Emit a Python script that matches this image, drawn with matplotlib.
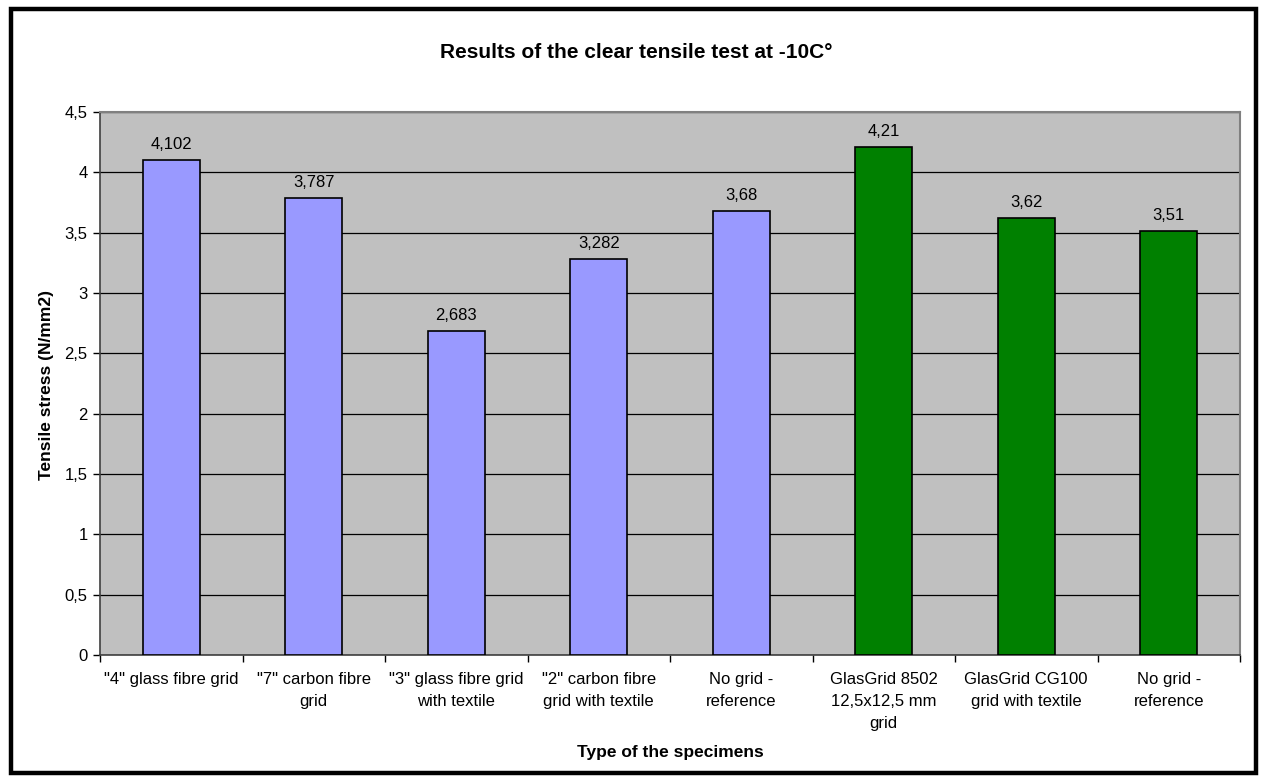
import matplotlib.pyplot as plt
from matplotlib.patches import Rectangle
from matplotlib.ticker import FuncFormatter, MultipleLocator

categories = [
    '"4" glass fibre grid',
    '"7" carbon fibre\ngrid',
    '"3" glass fibre grid\nwith textile',
    '"2" carbon fibre\ngrid with textile',
    'No grid -\nreference',
    'GlasGrid 8502\n12,5x12,5 mm\ngrid',
    'GlasGrid CG100\ngrid with textile',
    'No grid -\nreference',
]
values = [4.102, 3.787, 2.683, 3.282, 3.68, 4.21, 3.62, 3.51]
value_labels = ['4,102', '3,787', '2,683', '3,282', '3,68', '4,21', '3,62', '3,51']
bar_colors = ['#9999FF'] * 5 + ['#008000'] * 3

plt.rcParams['font.family'] = ['Liberation Sans', 'DejaVu Sans']

W, H = 1261, 782
fig = plt.figure(figsize=(W / 100, H / 100), dpi=100)

# outer frame of the chart
fig.patches.append(Rectangle((11 / W, 9 / H), (1256 - 11) / W, (773 - 9) / H,
                             transform=fig.transFigure, fill=False,
                             edgecolor='black', linewidth=3.2, zorder=10))

left, right, top, bottom = 100, 1240, 112, 655
ax = fig.add_axes([left / W, 1 - bottom / H, (right - left) / W, (bottom - top) / H])
ax.set_facecolor('#C0C0C0')

x = list(range(len(values)))
ax.bar(x, values, width=0.4, color=bar_colors, edgecolor='black', linewidth=1.2, zorder=3)

for xi, v, lab in zip(x, values, value_labels):
    ax.annotate(lab, (xi, v), xytext=(0, 6), textcoords='offset points',
                ha='center', va='bottom', fontsize=12)

ax.set_xlim(-0.5, len(values) - 0.5)
ax.set_ylim(0, 4.5)
ax.yaxis.set_major_locator(MultipleLocator(0.5))
ax.yaxis.set_major_formatter(FuncFormatter(lambda v, p: ('%g' % v).replace('.', ',')))
ax.grid(axis='y', color='black', linewidth=0.9, zorder=1)

ax.set_xticks([i - 0.5 for i in range(len(values) + 1)])
ax.set_xticklabels([])
ax.set_xticks(x, minor=True)
ax.set_xticklabels(categories, minor=True, fontsize=12, linespacing=1.6, va='top')
ax.tick_params(axis='x', which='minor', length=0, pad=12)
ax.tick_params(axis='x', which='major', length=5, width=1, color='black', direction='out')
ax.tick_params(axis='y', length=5, width=1, labelsize=12, direction='out', pad=4)

for side in ('top', 'right'):
    ax.spines[side].set_color('#808080')
    ax.spines[side].set_linewidth(1.5)
for side in ('left', 'bottom'):
    ax.spines[side].set_color('#404040')
    ax.spines[side].set_linewidth(1.2)

fig.text(636 / W, 1 - 52 / H, 'Results of the clear tensile test at -10C°',
         ha='center', va='center', fontsize=15, fontweight='bold')
fig.text(670 / W, 1 - 752 / H, 'Type of the specimens',
         ha='center', va='center', fontsize=12.5, fontweight='bold')
fig.text(47 / W, 1 - 385 / H, 'Tensile stress (N/mm2)', rotation=90,
         ha='center', va='center', fontsize=12.5, fontweight='bold')

fig.savefig('out.png', dpi=100)
